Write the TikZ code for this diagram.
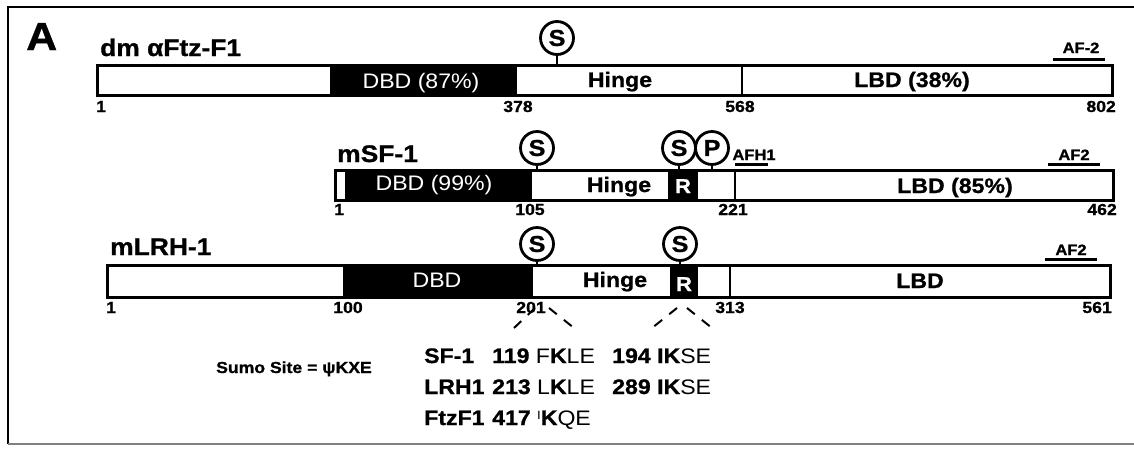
\documentclass[tikz,border=0pt]{standalone}
\usepackage{fontspec}
\setmainfont{Liberation Sans}[FakeStretch=1.1, BoldFeatures={FakeBold=1.0}]
\begin{document}
\begin{tikzpicture}[x=1pt,y=-1pt,
  outline/.style={line width=3pt},
  divider/.style={line width=2.2pt},
  blk/.style={fill=black},
  title/.style={font=\fontsize{24}{24}\selectfont\bfseries, inner sep=0pt, anchor=base west},
  num/.style={font=\fontsize{16}{16}\selectfont\bfseries, inner sep=0pt, anchor=base},
  dbd/.style={font=\fontsize{21}{21}\selectfont, text=white, inner sep=0pt, anchor=base},
  dom/.style={font=\fontsize{21}{21}\selectfont\bfseries, inner sep=0pt, anchor=base},
  rbox/.style={font=\fontsize{20}{20}\selectfont\bfseries, text=white, inner sep=0pt, anchor=base},
  site/.style={circle, draw, line width=2.8pt, fill=white, minimum size=33pt, inner sep=0pt, font=\fontsize{23}{23}\selectfont\bfseries},
  stem/.style={line width=2pt},
  af/.style={font=\fontsize{15}{15}\selectfont\bfseries, inner sep=0pt, anchor=base},
  ul/.style={line width=3pt},
  seq/.style={font=\fontsize{21}{21}\selectfont, inner sep=0pt, anchor=base west},
  cn/.style={dash pattern=on 10pt off 9pt, line width=2pt},
]
\useasboundingbox (0,0) rectangle (1134,448);
% frame
\draw[line width=2pt] (1136,7) -- (8,7) -- (8,444);
\draw[line width=1.6pt, gray] (8,444) -- (1136,444);

\node[font=\fontsize{39}{39}\selectfont\bfseries, inner sep=0pt, anchor=base west] (lblA) at (26,50) {A};

% ---------- row 1: dm alphaFtz-F1 ----------
\node[title] (t1) at (100,56) {dm αFtz-F1};
\coordinate (r1top) at (0,65);
\fill[blk] (330,65) rectangle (517,95);
\draw[outline] (97,65) rectangle (1112,95);
\draw[divider] (742,65) -- (742,95);
\node[dbd] (d1) at (421,88) {DBD (87\%)};
\node[dom] (h1) at (620,87) {Hinge};
\node[dom] (l1) at (912,87) {LBD (38\%)};
\node[num, anchor=base west] (n11) at (96,112) {1};
\node[num] (n12) at (518,112) {378};
\node[num] (n13) at (740,112) {568};
\node[num, anchor=base east] (n14) at (1116,112) {802};
\node[site] (s11) at (557,38) {S};
\draw[stem] (s11.south) -- (s11.south |- r1top);
\node[af] (af11) at (1081,53) {AF-2};
\draw[ul] (1053,59) -- (1105,59);

% ---------- row 2: mSF-1 ----------
\node[title] (t2) at (337,162) {mSF-1};
\coordinate (r2top) at (0,170);
\fill[blk] (345,170) rectangle (532,200);
\fill[blk] (668,170) rectangle (698,200);
\draw[outline] (335,170) rectangle (1113,200);
\draw[divider] (735,170) -- (735,200);
\node[dbd] (d2) at (434,190) {DBD (99\%)};
\node[dom] (h2) at (619,192) {Hinge};
\node[rbox] (rr2) at (683,193) {R};
\node[dom] (l2) at (955,193) {LBD (85\%)};
\node[num, anchor=base west] (n21) at (334,215) {1};
\node[num] (n22) at (530,215) {105};
\node[num] (n23) at (733,215) {221};
\node[num, anchor=base east] (n24) at (1117,215) {462};
\node[site] (p2) at (712,148) {P};
\node[site] (s22) at (679,148) {S};
\node[site] (s21) at (537,148) {S};
\draw[stem] (s21.south) -- (s21.south |- r2top);
\draw[stem] (s22.south) -- (s22.south |- r2top);
\draw[stem] (p2.south) -- (p2.south |- r2top);
\node[af] (af21) at (754,160) {AFH1};
\draw[ul] (735,164) -- (768,164);
\node[af] (af22) at (1074,160) {AF2};
\draw[ul] (1048,164) -- (1100,164);

% ---------- row 3: mLRH-1 ----------
\node[title] (t3) at (110,255) {mLRH-1};
\coordinate (r3top) at (0,265);
\fill[blk] (343,265) rectangle (533,297);
\fill[blk] (670,265) rectangle (698,297);
\draw[outline] (107,265) rectangle (1110,297);
\draw[divider] (730,265) -- (730,297);
\node[dbd] (d3) at (437,287) {DBD};
\node[dom] (h3) at (615,287) {Hinge};
\node[rbox] (rr3) at (684,291) {R};
\node[dom] (l3) at (920,288) {LBD};
\node[num, anchor=base west] (n31) at (106,313) {1};
\node[num] (n32) at (348,313) {100};
\node[num] (n33) at (531,313) {201};
\node[num] (n34) at (730,313) {313};
\node[num, anchor=base east] (n35) at (1112,313) {561};
\node[site] (s31) at (537,244) {S};
\node[site] (s32) at (680,244) {S};
\draw[stem] (s31.south) -- (s31.south |- r3top);
\draw[stem] (s32.south) -- (s32.south |- r3top);
\node[af] (af31) at (1071,255) {AF2};
\draw[ul] (1045,259) -- (1097,259);

% dashed connectors from sumo sites
\coordinate (c1a) at (535,308);
\coordinate (c1l) at (514,328);
\coordinate (c1b) at (549,308);
\coordinate (c1r) at (574,328);
\coordinate (c2a) at (677,308);
\coordinate (c2l) at (652,328);
\coordinate (c2b) at (687,308);
\coordinate (c2r) at (712,328);
\draw[cn] (c1a) -- (c1l);
\draw[cn] (c1b) -- (c1r);
\draw[cn] (c2a) -- (c2l);
\draw[cn] (c2b) -- (c2r);

% ---------- bottom sequences ----------
\node[font=\fontsize{16}{16}\selectfont\bfseries, inner sep=0pt, anchor=base west] (sumo) at (216,373) {Sumo Site = ψKXE};

\node[seq] (q1a) at (424,363) {\textbf{SF-1}};
\node[seq] (q1b) at (492,363) {\textbf{119} F\textbf{K}LE};
\node[seq] (q1c) at (612,363) {\textbf{194 IK}SE};

\node[seq] (q2a) at (424,394) {\textbf{LRH1}};
\node[seq] (q2b) at (492,394) {\textbf{213} L\textbf{K}LE};
\node[seq] (q2c) at (612,394) {\textbf{289 IK}SE};

\node[seq] (q3a) at (424,425) {\textbf{FtzF1}};
\node[seq] (q3b) at (492,425) {\textbf{417} \raisebox{6pt}{\fontsize{12}{12}\selectfont I}\textbf{K}QE};
\end{tikzpicture}
\end{document}
